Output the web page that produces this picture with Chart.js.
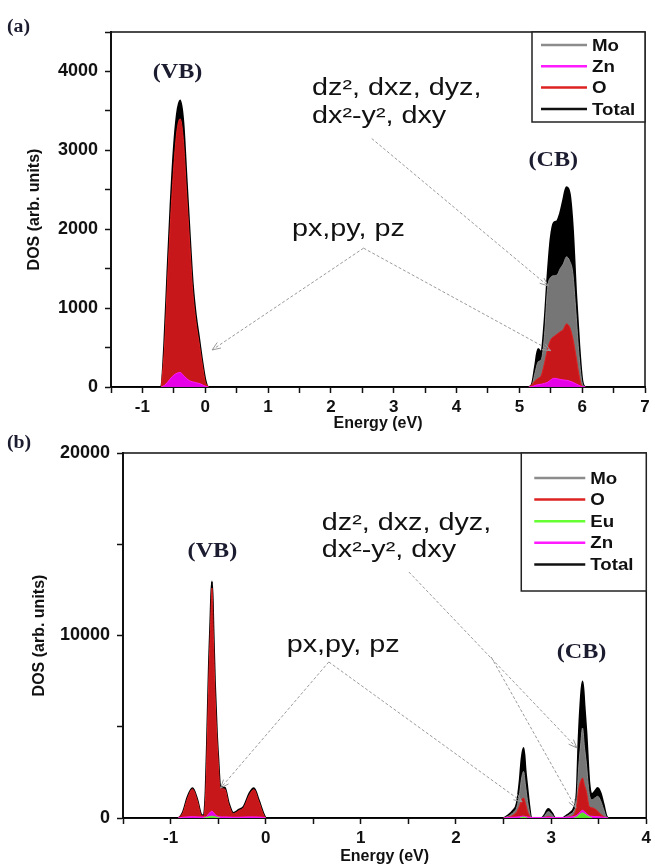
<!DOCTYPE html>
<html>
<head>
<meta charset="utf-8">
<script src="https://cdn.jsdelivr.net/npm/chart.js@4.4.0/dist/chart.umd.min.js"></script>
<style>
  body { margin: 0; background: #fff; }
  #tela { position: relative; width: 655px; height: 866px; overflow: hidden; }
  .painel { position: absolute; left: 0; width: 655px; }
  #painelA { top: 0; height: 440px; }
  #painelB { top: 420px; height: 446px; }
</style>
</head>
<body>
<div id="tela">
  <div class="painel" id="painelB"><canvas id="graficoB"></canvas></div>
  <div class="painel" id="painelA"><canvas id="graficoA"></canvas></div>
</div>
<script>
const N = null;

// ---------- painel (a) ----------
const energiaA = [-1.5, -0.7, -0.65, -0.6, -0.55, -0.5, -0.45, -0.4, -0.35, -0.3, -0.25, -0.2, -0.15, -0.1, -0.05, 0, 0.05,
    2.5,
    5.15, 5.2, 5.25, 5.3, 5.35, 5.4, 5.45, 5.5, 5.55, 5.6, 5.65, 5.7, 5.75, 5.8, 5.85, 5.9, 5.95, 6.0, 6.05, 7];
const totalA = [0, 0, 550, 1450, 2300, 3000, 3450, 3630, 3350, 2650, 1950, 1300, 900, 620, 330, 90, 0,
    0,
    0, 30, 250, 480, 430, 800, 1400, 1880, 2080, 2100, 2200, 2370, 2530, 2450, 2000, 1200, 550, 80, 0, 0];
const moA = [N, 0, 10, 30, 50, 65, 75, 80, 75, 60, 45, 35, 25, 15, 8, 0, 0,
    N,
    0, 20, 180, 320, 350, 650, 1250, 1390, 1410, 1420, 1500, 1560, 1650, 1600, 1450, 950, 400, 50, 0, N];
const oA = [N, 0, 480, 1350, 2150, 2800, 3250, 3400, 3150, 2500, 1850, 1220, 840, 570, 300, 70, 0,
    N,
    0, 30, 80, 110, 150, 300, 480, 600, 640, 670, 700, 730, 800, 760, 620, 400, 150, 10, 0, N];
const znA = [N, 0, 20, 60, 110, 150, 175, 185, 150, 110, 80, 65, 55, 45, 30, 10, 0,
    N,
    0, 5, 20, 30, 35, 45, 60, 90, 110, 105, 95, 90, 85, 75, 60, 40, 20, 5, 0, N];

// ---------- painel (b) ----------
const energiaB = [-1.5,
    -0.92, -0.87, -0.82, -0.77, -0.72, -0.68, -0.65, -0.63, -0.615, -0.595, -0.58, -0.565, -0.55, -0.535,
    -0.515, -0.5, -0.48, -0.455, -0.43, -0.39, -0.34, -0.28, -0.23, -0.17, -0.125, -0.075, -0.02, 0,
    1.25,
    2.5, 2.55, 2.6, 2.64, 2.67, 2.69, 2.71, 2.73, 2.75, 2.77, 2.79, 2.85, 2.9, 2.93, 2.97, 3.01, 3.04, 3.08,
    3.12, 3.16, 3.2, 3.24, 3.27, 3.29, 3.31, 3.33, 3.35, 3.37, 3.4, 3.43, 3.46, 3.49, 3.52, 3.55, 3.58, 3.6,
    4];
const totalB = [0,
    0, 300, 1150, 1630, 1000, 200, 130, 1500, 4300, 8500, 10800, 12950, 10200, 7400,
    4700, 3300, 1750, 1680, 1650, 820, 270, 450, 620, 1350, 1630, 990, 180, 0,
    0,
    0, 150, 400, 800, 2000, 3200, 3830, 2600, 1600, 640, 0, 0, 0, 150, 490, 250, 0, 0,
    0, 120, 270, 550, 1400, 4290, 6300, 7480, 6100, 4640, 1920, 1300, 1450, 1640, 1350, 750, 100, 0,
    0];
const moB = [N,
    0, 5, 15, 20, 15, 5, 5, 15, 40, 70, 90, 100, 80, 60,
    40, 25, 20, 20, 20, 10, 5, 5, 10, 15, 20, 15, 5, 0,
    N,
    0, 100, 300, 600, 1400, 2200, 2550, 1800, 1000, 400, 0, 0, 0, 100, 350, 180, 0, 0,
    0, 80, 200, 400, 1000, 2800, 4000, 4930, 3900, 3000, 1350, 1000, 1100, 1190, 950, 500, 60, 0,
    N];
const oB = [N,
    0, 280, 1100, 1580, 960, 180, 110, 1400, 4100, 8200, 10500, 12600, 9900, 7100,
    4550, 3150, 1650, 1600, 1580, 760, 240, 410, 580, 1280, 1560, 930, 150, 0,
    N,
    0, 50, 150, 350, 700, 1000, 1100, 800, 400, 150, 0, 0, 0, 20, 80, 30, 0, 0,
    0, 30, 80, 200, 700, 1600, 2000, 2190, 1800, 1460, 640, 560, 500, 370, 200, 90, 0, 0,
    N];
const znB = [N,
    0, 40, 60, 70, 60, 50, 50, 60, 120, 250, 330, 380, 300, 200,
    120, 80, 60, 60, 60, 50, 40, 40, 50, 60, 60, 50, 30, 0,
    N,
    0, 30, 40, 50, 70, 90, 100, 80, 60, 40, 30, 30, 30, 30, 40, 30, 30, 30,
    30, 40, 50, 80, 150, 250, 350, 420, 350, 250, 120, 90, 80, 70, 60, 40, 20, 0,
    N];
const euB = [N,
    N, N, N, N, N, N, 0, 20, 40, 70, 90, 100, 90, 70,
    40, 20, 0, N, N, N, N, N, N, N, N, N, N, N,
    N,
    N, N, N, N, 0, 30, 50, 30, 0, N, N, N, N, N, N, N, N, N,
    N, N, N, 0, 60, 150, 230, 280, 230, 150, 60, 0, N, N, N, N, N, N,
    N];

// cores de cada elemento: linha (legenda/contorno) e preenchimento
const cores = {
    'Mo': { linha: '#8c8c8c', fundo: '#767676' },
    'Zn': { linha: '#ff1aff', fundo: '#e600e6' },
    'O': { linha: '#dd2222', fundo: '#c8171b' },
    'Eu': { linha: '#66ff33', fundo: '#55dd22' },
    'Total': { linha: '#111111', fundo: '#000000' }
};

function montarSerie(nome, energia, valores) {
    let pontos = [];
    for (let i = 0; i < energia.length; i++) {
        pontos.push({ x: energia[i], y: valores[i] });
    }
    return {
        label: nome,
        data: pontos,
        borderColor: nome == 'Total' ? '#000' : cores[nome].linha,
        backgroundColor: cores[nome].fundo,
        borderWidth: nome == 'Total' ? 2.2 : 1,
        fill: 'origin',
        pointRadius: 0,
        cubicInterpolationMode: 'monotone',
        spanGaps: false
    };
}

// converte coordenadas de dados em pixels
function px(chart, e, v) {
    return [chart.scales.x.getPixelForValue(e), chart.scales.y.getPixelForValue(v)];
}

function desenharSeta(ctx, x1, y1, x2, y2) {
    ctx.setLineDash([3, 2]);
    ctx.beginPath();
    ctx.moveTo(x1, y1);
    ctx.lineTo(x2, y2);
    ctx.stroke();
    ctx.setLineDash([]);
    const ang = Math.atan2(y2 - y1, x2 - x1);
    const L = 9;
    ctx.beginPath();
    ctx.moveTo(x2 - L * Math.cos(ang - 0.38), y2 - L * Math.sin(ang - 0.38));
    ctx.lineTo(x2, y2);
    ctx.lineTo(x2 - L * Math.cos(ang + 0.38), y2 - L * Math.sin(ang + 0.38));
    ctx.stroke();
}

// texto esticado na horizontal, como na figura original
function textoLargo(ctx, texto, x, y, fator) {
    ctx.save();
    ctx.translate(x, y);
    ctx.scale(fator, 1);
    ctx.fillText(texto, 0, 0);
    ctx.restore();
}

const pluginNotas = {
    id: 'notas',
    afterDatasetsDraw(chart, args, opts) {
        const ctx = chart.ctx;
        const area = chart.chartArea;
        ctx.save();

        // moldura de cima e da direita
        ctx.strokeStyle = '#111';
        ctx.lineWidth = 1.5;
        ctx.beginPath();
        ctx.moveTo(area.left, area.top);
        ctx.lineTo(area.right, area.top);
        ctx.lineTo(area.right, area.bottom);
        ctx.stroke();

        // rotulo do painel
        ctx.fillStyle = '#1c1c30';
        ctx.font = 'bold 18px "Liberation Serif", serif';
        ctx.textAlign = 'left';
        ctx.textBaseline = 'middle';
        textoLargo(ctx, opts.painel, 7, opts.painelY, 1.1);

        // (VB) e (CB)
        ctx.font = 'bold 21px "Liberation Serif", serif';
        ctx.textAlign = 'center';
        opts.bandas.forEach(b => {
            const [x, y] = px(chart, b.e, b.v);
            textoLargo(ctx, b.texto, x, y, 1.15);
        });

        // textos dos orbitais
        ctx.fillStyle = '#111';
        ctx.font = '23px "Liberation Sans", Arial, sans-serif';
        ctx.textAlign = 'left';
        ctx.textBaseline = 'alphabetic';
        opts.textos.forEach(t => {
            const [x, y] = px(chart, t.e, t.v);
            textoLargo(ctx, t.texto, x, y, 1.25);
        });

        // setas tracejadas
        ctx.strokeStyle = '#9a9a9a';
        ctx.lineWidth = 1;
        opts.setas.forEach(s => {
            const [x1, y1] = px(chart, s[0], s[1]);
            const [x2, y2] = px(chart, s[2], s[3]);
            desenharSeta(ctx, x1, y1, x2, y2);
        });

        // legenda
        const lg = opts.legenda;
        const bx = area.right - lg.largura;
        const by = area.top;
        ctx.fillStyle = '#fff';
        ctx.fillRect(bx, by, lg.largura, lg.altura);
        ctx.strokeStyle = '#222';
        ctx.lineWidth = 1.5;
        ctx.strokeRect(bx, by, lg.largura, lg.altura);
        ctx.font = 'bold 17px "Liberation Sans", Arial, sans-serif';
        ctx.textBaseline = 'middle';
        lg.ordem.forEach((nome, i) => {
            const y = by + lg.y0 + i * lg.passo;
            ctx.strokeStyle = cores[nome].linha;
            ctx.lineWidth = 2.5;
            ctx.beginPath();
            ctx.moveTo(bx + lg.x0, y);
            ctx.lineTo(bx + lg.x1, y);
            ctx.stroke();
            ctx.fillStyle = '#111';
            textoLargo(ctx, nome, bx + lg.x1 + 5, y + 1, 1.1);
        });

        ctx.restore();
    }
};

function gerarGrafico(idCanvas, datasets, eixo, notas) {
    return new Chart(document.getElementById(idCanvas), {
        type: 'line',
        data: { datasets: datasets },
        plugins: [pluginNotas],
        options: {
            responsive: true,
            maintainAspectRatio: false,
            animation: false,
            layout: { padding: { top: eixo.topo, right: eixo.direita, left: 0, bottom: 0 } },
            plugins: {
                legend: { display: false },
                tooltip: { enabled: false },
                notas: notas
            },
            scales: {
                x: {
                    type: 'linear',
                    min: eixo.xmin, max: eixo.xmax,
                    afterFit: s => { s.height = eixo.alturaX; },
                    border: { color: '#111', width: 2 },
                    grid: { drawOnChartArea: false, tickLength: 6, tickColor: '#111', tickWidth: 1.5 },
                    ticks: {
                        stepSize: 0.5, padding: 4, color: '#111', maxRotation: 0, autoSkip: false,
                        font: { size: 17, weight: 'bold' },
                        callback: v => Number.isInteger(v) ? v : ''
                    },
                    title: {
                        display: true, text: 'Energy (eV)', color: '#111',
                        font: { size: 16, weight: 'bold' },
                        padding: { top: 0, bottom: eixo.tituloX }
                    }
                },
                y: {
                    min: 0, max: eixo.ymax,
                    afterFit: s => { s.width = eixo.larguraY; },
                    border: { color: '#111', width: 2 },
                    grid: { drawOnChartArea: false, tickLength: 6, tickColor: '#111', tickWidth: 1.5 },
                    ticks: {
                        stepSize: eixo.passoY, padding: 7, color: '#111', autoSkip: false,
                        font: { size: 18, weight: 'bold' },
                        callback: v => v % eixo.rotuloY === 0 ? v : ''
                    },
                    title: {
                        display: true, text: 'DOS (arb. units)', color: '#111',
                        font: { size: 16, weight: 'bold' },
                        padding: { top: eixo.tituloY, bottom: 0 }
                    }
                }
            }
        }
    });
}

Chart.defaults.font.family = '"Liberation Sans", Arial, sans-serif';

// painel (a) - o Chart.js desenha o primeiro dataset por cima, entao o Total vai por ultimo
gerarGrafico('graficoA', [
    montarSerie('Zn', energiaA, znA),
    montarSerie('O', energiaA, oA),
    montarSerie('Mo', energiaA, moA),
    montarSerie('Total', energiaA, totalA)
], {
    topo: 32, direita: 10, alturaX: 53, larguraY: 111,
    xmin: -1.5, xmax: 7, ymax: 4500, passoY: 500, rotuloY: 1000,
    tituloX: 7, tituloY: 25
}, {
    painel: '(a)', painelY: 27,
    bandas: [
        { texto: '(VB)', e: -0.44, v: 3990 },
        { texto: '(CB)', e: 5.54, v: 2870 }
    ],
    textos: [
        { texto: 'dz², dxz, dyz,', e: 1.70, v: 3700 },
        { texto: 'dx²-y², dxy', e: 1.70, v: 3350 },
        { texto: 'px,py, pz', e: 1.38, v: 1920 }
    ],
    setas: [
        [2.65, 3150, 5.46, 1280],
        [2.52, 1760, 0.11, 470],
        [2.52, 1760, 5.50, 460]
    ],
    legenda: { ordem: ['Mo', 'Zn', 'O', 'Total'], largura: 113, altura: 90, y0: 13, passo: 21.3, x0: 9, x1: 55 }
});

// painel (b)
gerarGrafico('graficoB', [
    montarSerie('Eu', energiaB, euB),
    montarSerie('Zn', energiaB, znB),
    montarSerie('O', energiaB, oB),
    montarSerie('Mo', energiaB, moB),
    montarSerie('Total', energiaB, totalB)
], {
    topo: 33, direita: 7, alturaX: 48, larguraY: 123,
    xmin: -1.5, xmax: 4, ymax: 20000, passoY: 5000, rotuloY: 10000,
    tituloX: 0, tituloY: 30
}, {
    painel: '(b)', painelY: 23,
    bandas: [
        { texto: '(VB)', e: -0.56, v: 14600 },
        { texto: '(CB)', e: 3.32, v: 9050 }
    ],
    textos: [
        { texto: 'dz², dxz, dyz,', e: 0.59, v: 15800 },
        { texto: 'dx²-y², dxy', e: 0.59, v: 14300 },
        { texto: 'px,py, pz', e: 0.22, v: 9100 }
    ],
    setas: [
        [1.505, 13480, 3.27, 3840],
        [2.37, 8820, 3.26, 550],
        [0.663, 8550, -0.474, 1640],
        [0.663, 8550, 2.695, 880]
    ],
    legenda: { ordem: ['Mo', 'O', 'Eu', 'Zn', 'Total'], largura: 125, altura: 138, y0: 25, passo: 21.6, x0: 13, x1: 64 }
});
</script>
</body>
</html>
